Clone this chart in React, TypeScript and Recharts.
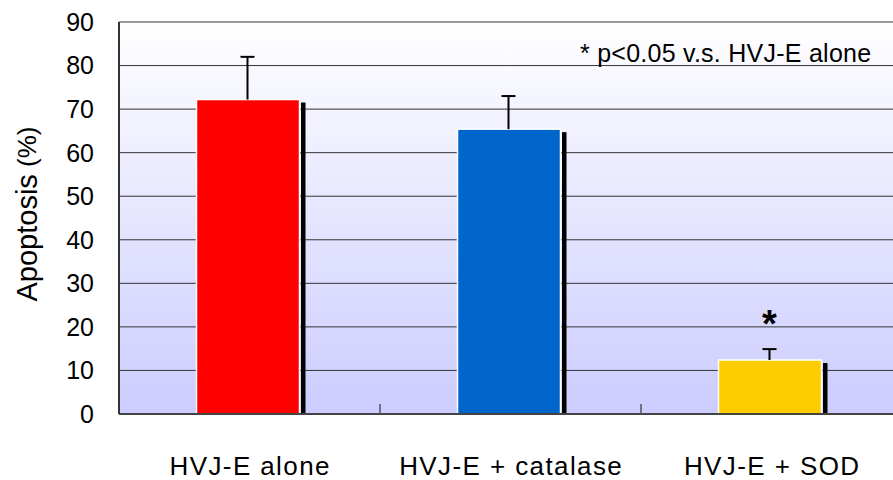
import { BarChart, Bar, XAxis, YAxis, CartesianGrid } from 'recharts'

const categories = ['HVJ-E alone', 'HVJ-E + catalase', 'HVJ-E + SOD']
const apoptosis = [72.2, 65.4, 12.4]
const errUpper = [9.8, 7.6, 2.5]
const barColors = ['#ff0000', '#0066cc', '#ffcc00']
const significant = [false, false, true]
const yTicks = [0, 10, 20, 30, 40, 50, 60, 70, 80, 90]

const data = categories.map((name, i) => ({
  name,
  value: apoptosis[i],
  err: errUpper[i],
  color: barColors[i],
  sig: significant[i],
}))

const FONT = '"Liberation Sans", Arial, sans-serif'

// bar with a black drop shadow on the right, an upper-only error bar and the asterisk
function ShadowBar(props: any) {
  const { y, width, height, payload } = props
  if (!height) return null
  const x = props.x - 1.5
  const pxPerUnit = height / payload.value
  const errTop = y - payload.err * pxPerUnit
  const cx = x + width / 2 - 0.5
  return (
    <g>
      <rect x={x + width + 1.5} y={y + 3} width={4.5} height={height - 3} fill="#000" />
      <rect x={x} y={y} width={width} height={height} fill={payload.color} stroke="#fff" strokeWidth={1.5} />
      <line x1={cx} x2={cx} y1={y} y2={errTop} stroke="#000" strokeWidth={2} />
      <line x1={cx - 7} x2={cx + 7} y1={errTop} y2={errTop} stroke="#000" strokeWidth={2} />
      {payload.sig && (
        <text x={cx} y={errTop - 12} textAnchor="middle" fontSize={38} fontWeight="bold" fill="#000">*</text>
      )}
    </g>
  )
}

function CategoryTick(props: any) {
  const { x, y, payload, index } = props
  const half = payload.offset ?? 130.5
  return (
    <g>
      <text x={x + 0.7} y={y + 61} textAnchor="middle" fontSize={26} letterSpacing={1.4} fill="#000">{payload.value}</text>
      {index < categories.length - 1 && (
        <line x1={x + half} x2={x + half} y1={y} y2={y - 10} stroke="#555" strokeWidth={1.5} />
      )}
    </g>
  )
}

function YTitle(props: any) {
  const vb = props.viewBox || { x: 0, y: 22, width: 119, height: 392 }
  const cx = vb.x + 27
  const cy = vb.y + vb.height / 2 - 4
  return (
    <text x={cx} y={cy} transform={`rotate(-90, ${cx}, ${cy})`} textAnchor="middle" dominantBaseline="central" fontSize={29} fill="#000">
      Apoptosis<tspan fontSize={26}> (%)</tspan>
    </text>
  )
}

export default function App() {
  return (
    <div style={{ position: 'absolute', left: 0, top: 0, width: 893, height: 480, overflow: 'hidden', background: '#fff', fontFamily: FONT }}>
      <BarChart width={902} height={480} data={data} margin={{ top: 22, right: 0, left: 0, bottom: 0 }}>
        <defs>
          <linearGradient id="plotBg" x1="0" y1="0" x2="0" y2="1">
            <stop offset="0%" stopColor="#ffffff" />
            <stop offset="100%" stopColor="#ccccff" />
          </linearGradient>
        </defs>
        <CartesianGrid vertical={false} stroke="#333" strokeWidth={1} fill="url(#plotBg)" fillOpacity={1} />
        <XAxis
          dataKey="name"
          interval={0}
          tickLine={false}
          tickSize={0}
          tickMargin={0}
          height={66}
          axisLine={{ stroke: '#444', strokeWidth: 2 }}
          tick={<CategoryTick />}
        />
        <YAxis
          domain={[0, 90]}
          ticks={yTicks}
          width={119}
          tickLine={false}
          tickSize={0}
          tickMargin={25}
          axisLine={{ stroke: '#333', strokeWidth: 2 }}
          tick={{ fontSize: 25, fill: '#000' }}
          label={<YTitle />}
        />
        <Bar dataKey="value" barSize={103} shape={<ShadowBar />} isAnimationActive={false} />
      </BarChart>
      <div style={{ position: 'absolute', left: 580, top: 38, fontSize: 25, lineHeight: '30px', letterSpacing: 0.25, color: '#000', whiteSpace: 'nowrap' }}>
        * p&lt;0.05 v.s. HVJ-E alone
      </div>
    </div>
  )
}
